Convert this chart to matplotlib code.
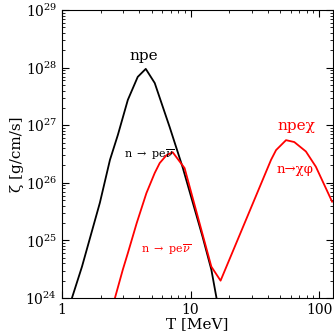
import numpy as np
import matplotlib
matplotlib.use("Agg")
import matplotlib.pyplot as plt
from matplotlib.ticker import LogLocator, NullFormatter

# Data (T in MeV, zeta in g/cm/s)
T_npe = [1.195, 1.43, 1.97, 2.36, 2.72, 3.25, 3.88, 4.48, 5.26, 6.07, 6.87, 8.67, 12.4, 14.5, 15.9]
zeta_npe = [1e24, 3.5e24, 4.5e25, 2.5e26, 6.8e26, 2.75e27, 6.9e27, 9.5e27, 5.4e27, 2.1e27, 9.3e26, 1.86e26, 1.15e25, 3.1e24, 1e24]

T_npex = [2.58, 2.97, 3.25, 3.81, 4.53, 5.26, 5.75, 6.48, 7.25, 8.98, 14.5, 17.1, 42.2, 46.2, 55.2, 64.0, 78.8, 94.2, 126.0]
zeta_npex = [1e24, 3.1e24, 6.0e24, 2.0e25, 6.6e25, 1.48e26, 2.2e26, 3.0e26, 3.4e26, 1.8e26, 3.5e24, 2.0e24, 2.5e26, 3.7e26, 5.5e26, 5.1e26, 3.5e26, 1.9e26, 4.7e25]

plt.rcParams['font.family'] = 'DejaVu Serif'
plt.rcParams['mathtext.fontset'] = 'dejavuserif'

fig = plt.figure(figsize=(3.34, 3.36), dpi=100)
ax = fig.add_axes([62/334, 38/336, 271/334, 288/336])

ax.plot(T_npe, zeta_npe, color='black', lw=1.3)
ax.plot(T_npex, zeta_npex, color='red', lw=1.3)

ax.set_xscale('log')
ax.set_yscale('log')
ax.set_xlim(1, 128)
ax.set_ylim(1e24, 1e29)

ax.tick_params(which='both', direction='in', top=True, right=True, labelsize=10)
ax.tick_params(which='major', length=5)
ax.tick_params(which='minor', length=2.5)
ax.yaxis.set_minor_locator(LogLocator(base=10, subs=np.arange(2, 10), numticks=20))
ax.yaxis.set_minor_formatter(NullFormatter())
ax.xaxis.set_minor_formatter(NullFormatter())
ax.set_xticks([1, 10, 100])
ax.set_xticklabels(['1', '10', '100'])

ax.set_xlabel('T [MeV]', fontsize=11, labelpad=0)
ax.set_ylabel('ζ [g/cm/s]', fontsize=11, labelpad=1)

ax.text(4.3, 1.6e28, 'npe', color='black', fontsize=11, ha='center', va='center')
ax.text(4.75, 3.1e26, r'n $\rightarrow$ pe$\overline{\nu}$', color='black', fontsize=8, ha='center', va='center')
ax.text(6.4, 7.0e24, r'n $\rightarrow$ pe$\overline{\nu}$', color='red', fontsize=8, ha='center', va='center')
ax.text(66, 9.5e26, 'npeχ', color='red', fontsize=11, ha='center', va='center')
ax.text(65, 1.7e26, 'n→χφ', color='red', fontsize=9.5, ha='center', va='center')

fig.savefig('out.png', dpi=100)
